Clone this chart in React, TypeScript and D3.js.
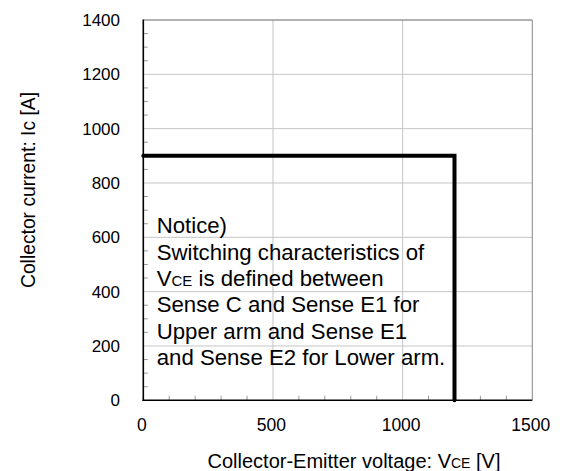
import React from "react";
import * as d3 from "d3";

const W = 562;
const H = 471;

const xTicks = [0, 500, 1000, 1500];
const yTicks = [0, 200, 400, 600, 800, 1000, 1200, 1400];
const xMinorStep = 100;
const yMinorStep = 50;

const soaV = [0, 1200, 1200];
const soaI = [900, 900, 0];

const noticeLines = [
  ["Notice)"],
  ["Switching characteristics of"],
  ["V", "CE", " is defined between"],
  ["Sense C and Sense E1 for"],
  ["Upper arm and Sense E1"],
  ["and Sense E2 for Lower arm."],
];

const FONT = "'Liberation Sans', Arial, sans-serif";

export default function App() {
  const x = d3.scaleLinear().domain([0, 1500]).range([143.3, 532.3]);
  const y = d3.scaleLinear().domain([0, 1400]).range([400.3, 20]);

  const xMinor = d3.range(0, 1500 + 1, xMinorStep).filter((v) => v % 500 !== 0);
  const yMinor = d3.range(0, 1400 + 1, yMinorStep).filter((v) => v % 200 !== 0);

  const line = d3
    .line<number>()
    .x((_, i) => x(soaV[i]))
    .y((_, i) => y(soaI[i]));

  const [x0, x1] = x.range();
  const [y0, y1] = y.range();

  return (
    <svg
      width={W}
      height={H}
      style={{ position: "absolute", left: 0, top: 0, background: "#fff" }}
      fontFamily={FONT}
    >
      <rect x={0} y={0} width={W} height={H} fill="#fff" />
      {/* grid */}
      {xTicks.slice(1, -1).map((v) => (
        <line key={"gx" + v} x1={x(v)} x2={x(v)} y1={y0} y2={y1} stroke="#c4c4c4" strokeWidth={1} />
      ))}
      {yTicks.slice(1, -1).map((v) => (
        <line key={"gy" + v} x1={x0} x2={x1} y1={y(v)} y2={y(v)} stroke="#c4c4c4" strokeWidth={1} />
      ))}
      {/* minor ticks */}
      {xMinor.map((v) => (
        <line key={"mx" + v} x1={x(v)} x2={x(v)} y1={y0} y2={y0 - 4.5} stroke="#999" strokeWidth={1} />
      ))}
      {yMinor.map((v) => (
        <line key={"my" + v} x1={x0} x2={x0 + 4.5} y1={y(v)} y2={y(v)} stroke="#999" strokeWidth={1} />
      ))}
      {/* frame */}
      <line x1={x0} x2={x1} y1={y1} y2={y1} stroke="#666" strokeWidth={1.2} />
      <line x1={x1} x2={x1} y1={y1} y2={y0} stroke="#888" strokeWidth={1} />
      <line x1={x0} x2={x0} y1={y1 - 0.5} y2={y0 + 0.8} stroke="#000" strokeWidth={1.6} />
      <line x1={x0 - 0.8} x2={x1} y1={y0} y2={y0} stroke="#000" strokeWidth={1.6} />
      {/* SOA curve */}
      <path
        d={line(soaV) || ""}
        fill="none"
        stroke="#000"
        strokeWidth={4}
        strokeLinejoin="miter"
        strokeLinecap="round"
      />
      {/* tick labels */}
      {xTicks.map((v) => (
        <text key={"tx" + v} x={x(v) - 1.5} y={431} textAnchor="middle" fontSize={17.5} fill="#000">
          {v}
        </text>
      ))}
      {yTicks.map((v) => (
        <text key={"ty" + v} x={120} y={y(v)} dy="0.35em" textAnchor="end" fontSize={17} fill="#000">
          {v}
        </text>
      ))}
      {/* axis titles */}
      <text x={354} y={468} textAnchor="middle" fontSize={20} fill="#000">
        Collector-Emitter voltage: V<tspan fontSize={14}>CE</tspan> [V]
      </text>
      <text
        transform="translate(34.5,190) rotate(-90)"
        textAnchor="middle"
        fontSize={19.3}
        fill="#000"
      >
        Collector current: Ic [A]
      </text>
      {/* notice */}
      <g transform="translate(156.7,0)">
        {noticeLines.map((parts, i) => (
          <text key={"n" + i} x={0} y={233.3 + i * 26.3} fontSize={22.2} fill="#000">
            {parts.map((p, j) =>
              p === "CE" ? (
                <tspan key={j} fontSize={15}>
                  {p}
                </tspan>
              ) : (
                <tspan key={j}>{p}</tspan>
              )
            )}
          </text>
        ))}
      </g>
    </svg>
  );
}
